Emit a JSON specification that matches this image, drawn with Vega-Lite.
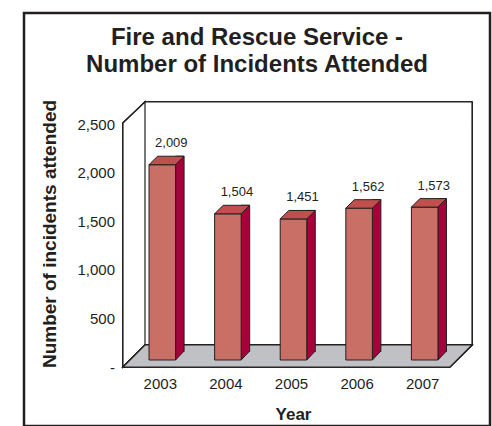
{
  "$schema": "https://vega.github.io/schema/vega-lite/v6.json",
  "width": 466,
  "height": 413,
  "autosize": "none",
  "padding": {"left": 24, "top": 13, "right": 2, "bottom": 0},
  "background": "white",
  "config": {
    "view": {"stroke": "#231f20", "strokeWidth": 2.5},
    "font": "Liberation Sans",
    "axis": {"grid": false}
  },
  "title": {
    "text": ["Fire and Rescue Service -", "Number of Incidents Attended"],
    "fontSize": 24,
    "fontWeight": "bold",
    "font": "Liberation Sans",
    "color": "#231f20",
    "lineHeight": 27,
    "anchor": "middle",
    "frame": "group",
    "orient": "top",
    "baseline": "bottom",
    "offset": -88
  },
  "data": {"values": [
    {"year": "2003", "incidents": 2009},
    {"year": "2004", "incidents": 1504},
    {"year": "2005", "incidents": 1451},
    {"year": "2006", "incidents": 1562},
    {"year": "2007", "incidents": 1573}
  ]},
  "layer": [
    {
      "mark": {"type": "point", "shape": "M-1.635,-1.215L1.635,-1.215L1.635,1.215L-1.635,1.215ZM-1.855,-1.005L-1.635,-1.215L-1.635,1.215L-1.855,1.435Z", "size": 40000, "filled": true, "fill": "white", "stroke": "#231f20", "strokeWidth": 1.2, "opacity": 1},
      "encoding": {
        "x": {"datum": "2005", "type": "nominal", "title": "Year",
          "scale": {"type": "band", "range": [121, 448], "paddingInner": 0.595, "paddingOuter": 0.29},
          "axis": {"orient": "bottom", "offset": -59.5, "domain": false, "ticks": false, "labelAngle": 0, "labelOffset": -17, "labelPadding": 10, "labelFontSize": 15, "labelColor": "#231f20", "labelFont": "Liberation Sans", "titleFontSize": 17, "titleFontWeight": "bold", "titleColor": "#231f20", "titleFont": "Liberation Sans", "titleX": 269, "titleY": 52.8, "titleBaseline": "alphabetic", "titleAlign": "center"}},
        "y": {"datum": 1250, "type": "quantitative", "title": "Number of incidents attended",
          "scale": {"domain": [0, 2500], "range": [332, 89], "nice": false},
          "axis": {"orient": "left", "offset": -76.5, "translate": 22.5, "domainColor": "#231f20", "domainWidth": 1.2, "ticks": false, "labelPadding": 8, "labelFontSize": 15, "labelColor": "#231f20", "labelFont": "Liberation Sans", "values": [0, 500, 1000, 1500, 2000, 2500], "labelExpr": "datum.value == 0 ? '-' : format(datum.value, ',')", "titleFontSize": 19, "titleFontWeight": "bold", "titleColor": "#231f20", "titleFont": "Liberation Sans", "titleX": -73, "titleY": 198.5, "titleBaseline": "middle", "titleAlign": "center", "titleAngle": -90}}
      }
    },
    {
      "mark": {"type": "point", "shape": "M-1.855,1.435L1.415,1.435L1.635,1.215L-1.635,1.215Z", "size": 40000, "filled": true, "fill": "#c0c1c4", "stroke": "#231f20", "strokeWidth": 1.2, "opacity": 1},
      "encoding": {
        "x": {"datum": "2005", "type": "nominal", "title": "Year"},
        "y": {"datum": 1250, "type": "quantitative", "title": "Number of incidents attended"}
      }
    },
    {
      "mark": {"type": "bar", "width": 8.5, "xOffset": 2.53, "yOffset": 6.5, "y2Offset": 6.5, "fill": "#a8003b", "stroke": "#231f20", "strokeWidth": 1},
      "encoding": {
        "x": {"field": "year", "type": "nominal", "title": "Year"},
        "y": {"field": "incidents", "type": "quantitative", "title": "Number of incidents attended"},
        "y2": {"datum": 0}
      }
    },
    {
      "mark": {"type": "point", "shape": "M0.339,0.3L-0.086,0.75L-0.086,0.3", "size": 1600, "filled": true, "fill": "#a8003b", "stroke": "#231f20", "strokeWidth": 1, "opacity": 1},
      "encoding": {
        "x": {"field": "year", "type": "nominal", "title": "Year"},
        "y": {"datum": 0, "type": "quantitative", "title": "Number of incidents attended"}
      }
    },
    {
      "mark": {"type": "bar", "xOffset": -15, "yOffset": 15, "y2Offset": 15, "fill": "#c96f66", "stroke": "#231f20", "strokeWidth": 1},
      "encoding": {
        "x": {"field": "year", "type": "nominal", "title": "Year"},
        "y": {"field": "incidents", "type": "quantitative", "title": "Number of incidents attended"},
        "y2": {"datum": 0}
      }
    },
    {
      "mark": {"type": "point", "shape": "M-1.414,0.75L-0.086,0.75L0.339,0.325L-0.989,0.325Z", "size": 1600, "filled": true, "fill": "#c0504d", "stroke": "#231f20", "strokeWidth": 1, "opacity": 1},
      "encoding": {
        "x": {"field": "year", "type": "nominal", "title": "Year"},
        "y": {"field": "incidents", "type": "quantitative", "title": "Number of incidents attended"}
      }
    },
    {
      "mark": {"type": "text", "dx": -6, "dy": -2.5, "baseline": "alphabetic", "align": "center", "fontSize": 13, "font": "Liberation Sans", "fill": "#231f20"},
      "encoding": {
        "x": {"field": "year", "type": "nominal", "title": "Year"},
        "y": {"field": "incidents", "type": "quantitative", "title": "Number of incidents attended"},
        "text": {"field": "incidents", "type": "quantitative", "format": ","}
      }
    }
  ]
}
